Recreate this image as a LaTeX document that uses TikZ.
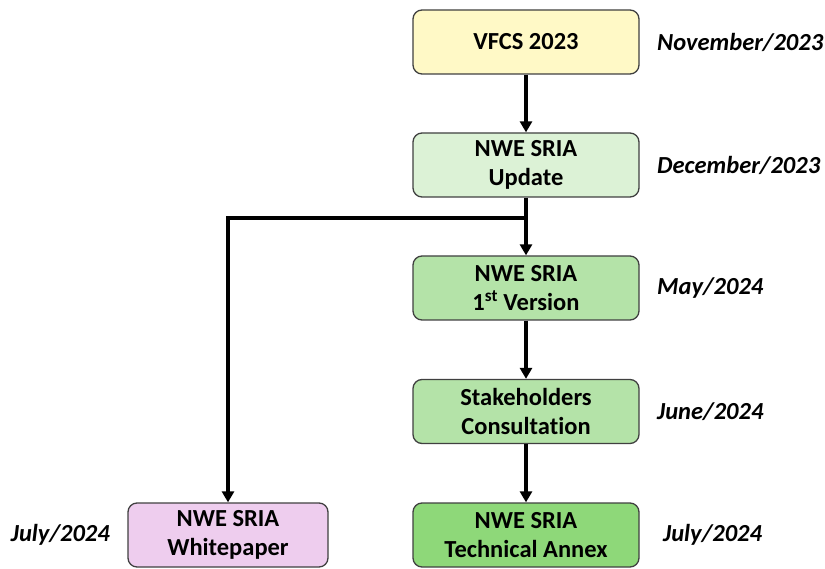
\documentclass[tikz,border=0pt]{standalone}
\usepackage{fontspec}
\setmainfont{Carlito}[Ligatures=NoCommon]
\usetikzlibrary{arrows.meta,positioning}
\definecolor{vfcsyellow}{HTML}{FFF9C6}
\definecolor{updgreen}{HTML}{DCF2D6}
\definecolor{midgreen}{HTML}{B4E3A8}
\definecolor{annexgreen}{HTML}{8ED879}
\definecolor{whitepink}{HTML}{EECDEE}
\begin{document}
\begin{tikzpicture}[x=1pt, y=-1pt,
  every node/.style = {align=center, font=\fontsize{24.5}{29}\selectfont\bfseries},
  box/.style = {draw=black!75, line width=1.3pt, rounded corners=9pt,
    minimum width=226pt, minimum height=64pt, inner sep=2pt},
  date/.style = {font=\fontsize{24.5}{29}\selectfont\bfseries\itshape},
  link/.style = {line width=3.5pt, -{Triangle[length=11pt,width=12pt]}}]

\useasboundingbox (0,0) rectangle (825,569);

\node[box, fill=vfcsyellow] (vfcs) at (526,42) {VFCS 2023};
\node[box, fill=updgreen] (update) at (526,165) {NWE SRIA\\Update};
\node[box, fill=midgreen] (first) at (526,288) {NWE SRIA\\1\textsuperscript{st} Version};
\node[box, fill=midgreen] (consult) at (526,411.5) {Stakeholders\\Consultation};
\node[box, fill=annexgreen] (annex) at (526,535) {NWE SRIA\\Technical Annex};
\node[box, fill=whitepink, minimum width=200pt] (white) at (228,535) {NWE SRIA\\Whitepaper};

% dates
\node[date, right=14pt of vfcs] {November/2023};
\node[date, right=14pt of update] {December/2023};
\node[date, right=14pt of first] {May/2024};
\node[date, right=14pt of consult] {June/2024};
\node[date, right=20pt of annex] {July/2024};
\node[date, left=14pt of white] {July/2024};

\coordinate (split) at (526,218);
\draw[link] (vfcs) -- (update);
\draw[link] (update) -- (first);
\draw[link] (first) -- (consult);
\draw[link] (consult) -- (annex);
\draw[link] (split) -| (white);
\end{tikzpicture}
\end{document}
